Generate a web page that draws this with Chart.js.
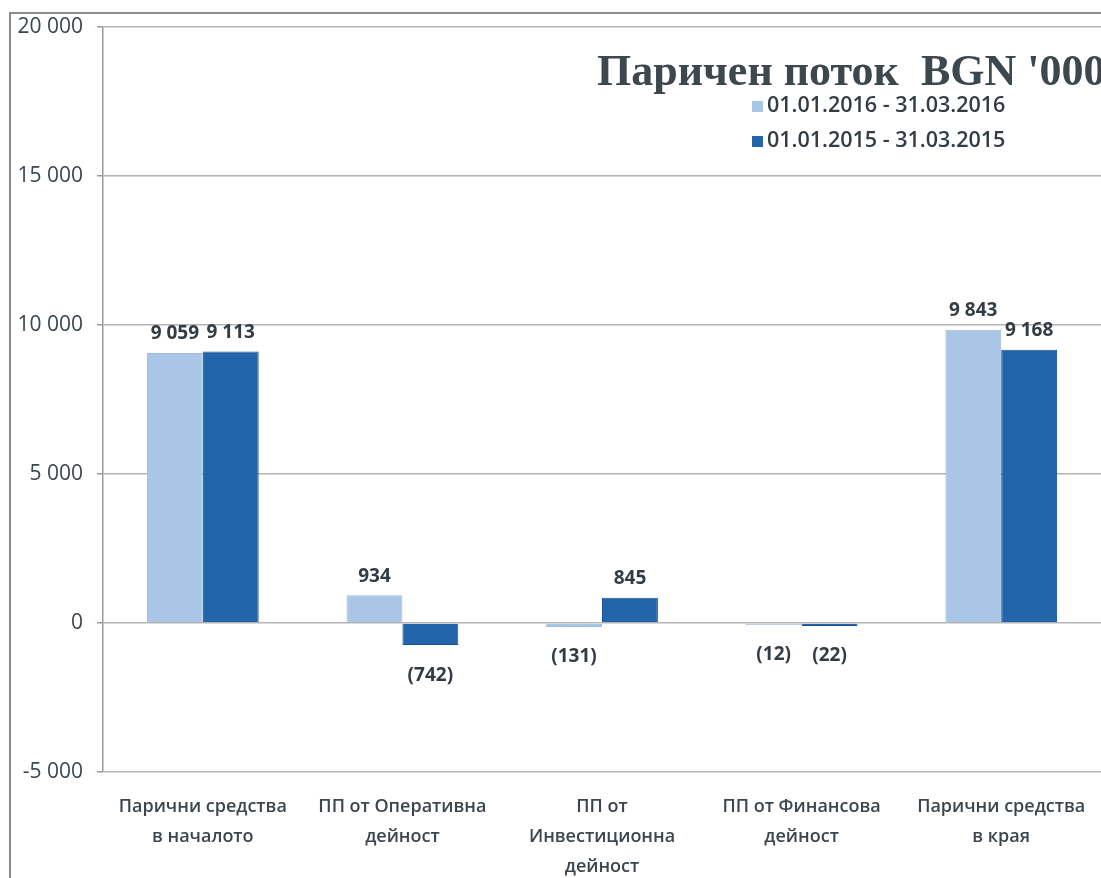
<!DOCTYPE html>
<html>
<head>
<meta charset="utf-8">
<script src="https://cdn.jsdelivr.net/npm/chart.js@4.4.1/dist/chart.umd.min.js"></script>
<style>
  html, body { margin: 0; padding: 0; background: #fff; width: 1101px; height: 878px; overflow: hidden; }
  #frame { position: absolute; left: 9px; top: 12px; width: 1200px; height: 1000px; border-left: 2px solid #8a8a8a; border-top: 2px solid #8a8a8a; box-sizing: border-box; }
  #wrap { position: absolute; left: 0; top: 0; width: 1101px; height: 878px; }
</style>
</head>
<body>
<div id="frame"></div>
<div id="wrap"><canvas id="c" width="1101" height="878"></canvas></div>
<script>
const categories = [
  ["Парични средства", "в началото"],
  ["ПП от Оперативна", "дейност"],
  ["ПП от", "Инвестиционна", "дейност"],
  ["ПП от Финансова", "дейност"],
  ["Парични средства", "в края"]
];
const seriesLabels = ["01.01.2016 - 31.03.2016", "01.01.2015 - 31.03.2015"];
const values2016 = [9059, 934, -131, -12, 9843];
const values2015 = [9113, -742, 845, -22, 9168];
const yMin = -5000;
const yMax = 20000;
const yStep = 5000;
const chartTitle = "Паричен поток  BGN '000";

const colLight = '#a9c6e6';
const colDark = '#2265aa';

function fmt(v) {
  const s = Math.abs(v).toString().replace(/\B(?=(\d{3})+(?!\d))/g, ' ');
  return v < 0 ? '-' + s : s;
}
function fmtLabel(v) {
  const s = Math.abs(v).toString().replace(/\B(?=(\d{3})+(?!\d))/g, ' ');
  return v < 0 ? '(' + s + ')' : s;
}

const overlay = {
  id: 'overlay',
  afterDatasetsDraw(chart) {
    const ctx = chart.ctx;
    ctx.save();
    // data labels
    ctx.font = 'bold 19px "Open Sans", sans-serif';
    ctx.fillStyle = '#333c44';
    ctx.textAlign = 'center';
    ctx.textBaseline = 'middle';
    chart.data.datasets.forEach((ds, di) => {
      const meta = chart.getDatasetMeta(di);
      meta.data.forEach((bar, i) => {
        const v = ds.data[i];
        const y = v >= 0 ? bar.y - 19 : bar.y + 30;
        ctx.fillText(fmtLabel(v), bar.x, y);
      });
    });
    // title
    ctx.font = 'bold 44px "Liberation Serif", "DejaVu Serif", serif';
    ctx.fillStyle = '#3c474e';
    ctx.textAlign = 'left';
    ctx.textBaseline = 'alphabetic';
    ctx.fillText(chartTitle, 597, 85);
    // legend
    ctx.font = '600 21.5px "Open Sans", sans-serif';
    ctx.textBaseline = 'middle';
    chart.data.datasets.forEach((ds, di) => {
      const y = 106 + di * 35;
      ctx.fillStyle = ds.backgroundColor;
      ctx.fillRect(752, y - 5, 11, 11);
      ctx.fillStyle = '#333c44';
      ctx.fillText(ds.label, 767, y);
    });
    ctx.restore();
  }
};

new Chart(document.getElementById('c'), {
  type: 'bar',
  data: {
    labels: categories,
    datasets: [
      { label: seriesLabels[0], data: values2016, backgroundColor: colLight, borderColor: '#9bbbe0', borderWidth: 1, minBarLength: 2 },
      { label: seriesLabels[1], data: values2015, backgroundColor: colDark, borderColor: '#1a5392', borderWidth: 1, minBarLength: 3 }
    ]
  },
  options: {
    responsive: false,
    animation: false,
    devicePixelRatio: 1,
    layout: { padding: { top: 27, left: 0, right: 0, bottom: 0 } },
    plugins: { legend: { display: false }, title: { display: false }, tooltip: { enabled: false } },
    datasets: { bar: { categoryPercentage: 0.56, barPercentage: 1.0 } },
    scales: {
      x: {
        grid: { display: false, drawTicks: false },
        border: { display: false },
        ticks: {
          color: '#3b464d',
          font: { family: '"Open Sans", sans-serif', size: 18, weight: '600', lineHeight: 1.67 },
          padding: 20,
          maxRotation: 0,
          autoSkip: false
        },
        afterFit(scale) { scale.height = 106; scale.paddingRight = 0; scale.paddingLeft = 0; }
      },
      y: {
        min: yMin,
        max: yMax,
        ticks: {
          stepSize: yStep,
          color: '#3b464d',
          font: { family: '"Open Sans", sans-serif', size: 21 },
          padding: 14,
          callback: (v) => fmt(v)
        },
        grid: { color: '#b4b4b4', lineWidth: 1.5, tickLength: 6, tickColor: '#999' },
        border: { display: true, color: '#999', width: 1.5 },
        afterFit(scale) { scale.width = 103; scale.paddingTop = 0; scale.paddingBottom = 0; }
      }
    }
  },
  plugins: [overlay]
});
</script>
</body>
</html>
